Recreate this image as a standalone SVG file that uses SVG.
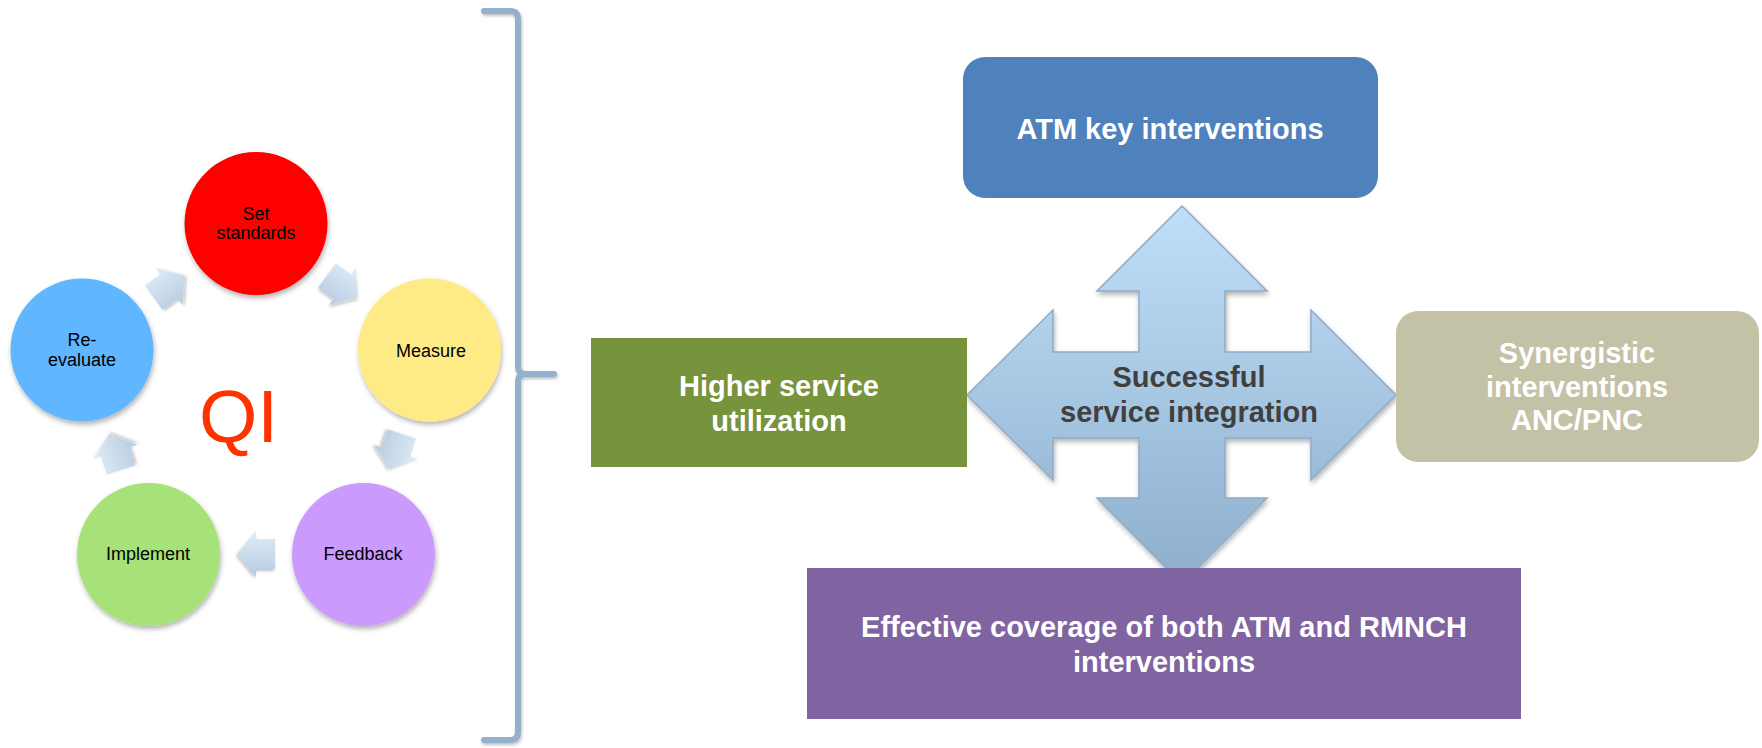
<svg xmlns="http://www.w3.org/2000/svg" width="1762" height="748" viewBox="0 0 1762 748">
<style>
  .lbl { font-family: "Liberation Sans", Arial, sans-serif; }
  .ctxt { font-size: 18px; fill: #000; text-anchor: middle; }
  .btxt { font-size: 29px; font-weight: bold; fill: #fff; text-anchor: middle; }
  .circ { filter: url(#shadow); }
  .sarrow { stroke: none; filter: url(#shadowSm); }
</style>
<defs>
  <filter id="shadow" x="-20%" y="-20%" width="140%" height="140%">
    <feDropShadow dx="1" dy="3" stdDeviation="2.5" flood-color="#000" flood-opacity="0.3"/>
  </filter>
  <filter id="shadowSm" x="-30%" y="-30%" width="160%" height="160%">
    <feDropShadow dx="1" dy="2" stdDeviation="1.5" flood-color="#000" flood-opacity="0.25"/>
  </filter>
  <linearGradient id="crossGrad" x1="0" y1="0" x2="0" y2="1">
    <stop offset="0" stop-color="#c0def9"/>
    <stop offset="1" stop-color="#8dafcc"/>
  </linearGradient>
  <linearGradient id="smallGrad" x1="0" y1="0" x2="0" y2="1">
    <stop offset="0" stop-color="#e0ecf8"/>
    <stop offset="1" stop-color="#b6cbe0"/>
  </linearGradient>
  <path id="sArrowShape" d="M-19,-15 H0 V-23 L19,0 L0,23 V15 H-19 Z"/>
</defs>

<rect width="1762" height="748" fill="#ffffff"/>

<g id="connectors">
  <g id="bracket" fill="none" stroke="#93b1cd" stroke-width="6" stroke-linecap="round" stroke-linejoin="round" filter="url(#shadowSm)">
    <path d="M484,11 H510 Q518,11 518,19 V366 Q518,374 526,374 H554 M526,374 Q518,374 518,382 V732 Q518,740 510,740 H484"/>
  </g>
  <use href="#sArrowShape" class="sarrow" fill="url(#smallGrad)" transform="translate(169,286.5) rotate(-36)"/>
  <use href="#sArrowShape" class="sarrow" fill="url(#smallGrad)" transform="translate(342.5,286.5) rotate(36)"/>
  <use href="#sArrowShape" class="sarrow" fill="url(#smallGrad)" transform="translate(396,452) rotate(108)"/>
  <use href="#sArrowShape" class="sarrow" fill="url(#smallGrad)" transform="translate(256,554) scale(-1,1)"/>
  <use href="#sArrowShape" class="sarrow" fill="url(#smallGrad)" transform="translate(115,452) rotate(-108)"/>
</g>

<g id="node-set-standards" class="lbl">
  <circle class="circ" cx="256" cy="223.5" r="71.5" fill="#ff0000"/>
  <text class="ctxt" x="256" y="220">Set</text>
  <text class="ctxt" x="256" y="239">standards</text>
</g>
<g id="node-measure" class="lbl">
  <circle class="circ" cx="429.5" cy="350" r="71.5" fill="#ffeb85"/>
  <text class="ctxt" x="431" y="357">Measure</text>
</g>
<g id="node-feedback" class="lbl">
  <circle class="circ" cx="363.5" cy="554.5" r="71.5" fill="#ca9afc"/>
  <text class="ctxt" x="363" y="560">Feedback</text>
</g>
<g id="node-implement" class="lbl">
  <circle class="circ" cx="148.5" cy="554.5" r="71.5" fill="#a6e277"/>
  <text class="ctxt" x="148" y="560">Implement</text>
</g>
<g id="node-reevaluate" class="lbl">
  <circle class="circ" cx="82" cy="350" r="71.5" fill="#60b6ff"/>
  <text class="ctxt" x="82" y="346">Re-</text>
  <text class="ctxt" x="82" y="366">evaluate</text>
</g>
<g id="node-qi" class="lbl">
  <text x="199" y="442" font-size="75" fill="#ff3300">QI</text>
</g>

<g id="node-successful-integration" class="lbl">
  <polygon filter="url(#shadow)" fill="url(#crossGrad)" stroke="#8eabc7" stroke-width="1.5" stroke-linejoin="miter"
    points="1182,206 1267,291 1225,291 1225,352 1311,352 1311,310 1396,395 1311,480 1311,438 1225,438 1225,498 1267,498 1182,584 1097,498 1139,498 1139,438 1053,438 1053,480 967,395 1053,310 1053,352 1139,352 1139,291 1097,291"/>
  <text x="1189" y="387" font-size="29" font-weight="bold" fill="#404040" text-anchor="middle">Successful</text>
  <text x="1189" y="422" font-size="29" font-weight="bold" fill="#404040" text-anchor="middle">service integration</text>
</g>

<g id="node-atm" class="lbl">
  <rect x="963" y="57" width="415" height="141" rx="22" fill="#4f81bd"/>
  <text class="btxt" x="1170" y="139">ATM key interventions</text>
</g>

<g id="node-higher-utilization" class="lbl">
  <rect x="591" y="338" width="376" height="129" fill="#77933c"/>
  <text class="btxt" x="779" y="396">Higher service</text>
  <text class="btxt" x="779" y="431">utilization</text>
</g>

<g id="node-synergistic" class="lbl">
  <rect x="1396" y="311" width="363" height="151" rx="22" fill="#c3c2a7"/>
  <text class="btxt" x="1577" y="363" fill="#f2f2f2">Synergistic</text>
  <text class="btxt" x="1577" y="397" fill="#f2f2f2">interventions</text>
  <text class="btxt" x="1577" y="430" fill="#f2f2f2">ANC/PNC</text>
</g>

<g id="node-effective-coverage" class="lbl">
  <rect x="807" y="568" width="714" height="151" fill="#8064a2"/>
  <text class="btxt" x="1164" y="637">Effective coverage of both ATM and RMNCH</text>
  <text class="btxt" x="1164" y="672">interventions</text>
</g>
</svg>
